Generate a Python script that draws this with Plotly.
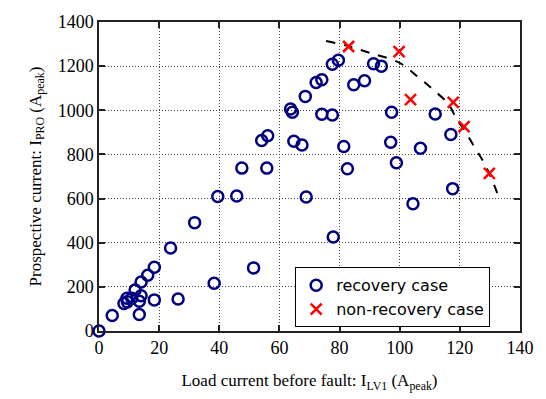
import plotly.graph_objects as go

# recovery case (circles)
rec_x = [0, 4.4, 8.3, 9.4, 9.3, 10.9, 12.0, 13.4, 14.0, 13.4, 14.0, 16.2, 18.4, 18.4,
         23.8, 26.3, 31.8, 38.3, 39.5, 45.8, 51.4, 47.5, 55.8, 54.1, 56.1, 64.8, 67.5,
         63.7, 64.3, 68.6, 72.2, 74.1, 74.1, 77.6, 77.6, 79.6, 68.9, 77.9, 81.4, 82.6,
         84.7, 88.3, 91.3, 93.9, 97.3, 97.0, 98.9, 104.4, 106.9, 111.8, 117.0, 117.6]
rec_y = [0, 70, 125, 132, 148, 148, 186, 135, 160, 75, 222, 253, 289, 141,
         376, 145, 491, 216, 609, 612, 286, 738, 738, 863, 885, 860, 843,
         1006, 991, 1063, 1126, 1138, 982, 979, 1209, 1227, 607, 426, 836, 735,
         1116, 1134, 1211, 1200, 991, 855, 762, 577, 828, 983, 890, 645]

# non-recovery case (crosses)
non_x = [83.0, 99.8, 103.6, 117.8, 121.4, 129.8]
non_y = [1289, 1266, 1048, 1036, 926, 714]

# dashed boundary curve
bnd_x = [75.5, 83.0, 90.0, 99.8, 106.3, 111.0, 116.2, 118.9, 122.0, 124.9, 127.5, 129.3, 131.3, 133.1]
bnd_y = [1314, 1290, 1260, 1216, 1149, 1095, 1028, 961, 900, 832, 775, 727, 665, 599]

fig = go.Figure()
fig.add_trace(go.Scatter(x=bnd_x, y=bnd_y, mode="lines", showlegend=False,
                         line=dict(color="black", width=2, dash="dash", shape="spline"),
                         hoverinfo="skip"))
fig.add_trace(go.Scatter(x=rec_x, y=rec_y, mode="markers", name="recovery case",
                         cliponaxis=False,
                         marker=dict(symbol="circle-open", size=11, color="#000080",
                                     line=dict(width=2.5, color="#000080"))))
fig.add_trace(go.Scatter(x=non_x, y=non_y, mode="markers", name="non-recovery case",
                         cliponaxis=False,
                         marker=dict(symbol="x-thin-open", size=11, color="#ff0000",
                                     line=dict(width=2.5, color="#ff0000"))))

axis_common = dict(showline=True, linecolor="#222", linewidth=1.5, mirror="ticks",
                   ticks="inside", ticklen=6, tickcolor="#222", tickwidth=1.5,
                   showgrid=True, gridcolor="#444", griddash="1px,2px", gridwidth=1,
                   zeroline=False,
                   tickfont=dict(family="Liberation Serif", size=18, color="black"))

fig.update_xaxes(range=[0, 140], tickvals=[0, 20, 40, 60, 80, 100, 120, 140],
                 title=dict(text="Load current before fault: I<sub>LV1</sub> (A<sub>peak</sub>)",
                            font=dict(family="Liberation Serif", size=17, color="black"),
                            standoff=17),
                 **axis_common)
fig.update_yaxes(range=[0, 1400], tickvals=[0, 200, 400, 600, 800, 1000, 1200, 1400],
                 title=dict(text="Prospective current: I<sub>PRO</sub> (A<sub>peak</sub>)",
                            font=dict(family="Liberation Serif", size=17, color="black"),
                            standoff=12),
                 **axis_common)

fig.update_layout(
    width=546, height=399,
    margin=dict(l=99, r=20, t=21, b=68),
    paper_bgcolor="white", plot_bgcolor="white",
    legend=dict(x=0.466, y=0.206, xanchor="left", yanchor="top",
                bgcolor="white", bordercolor="black", borderwidth=1,
                font=dict(family="DejaVu Sans", size=16, color="black"),
                tracegroupgap=0, itemwidth=30),
)

fig.write_html("out.html")
